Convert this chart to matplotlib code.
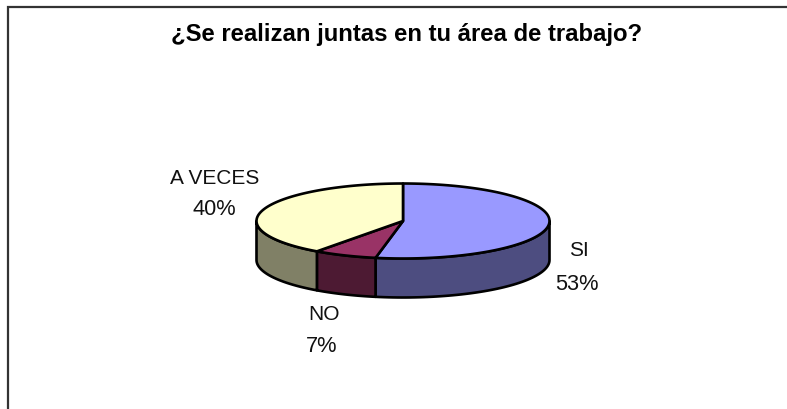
import numpy as np
import matplotlib
matplotlib.use("Agg")
import matplotlib.pyplot as plt

labels = ["SI", "NO", "A VECES"]
values = [53, 7, 40]
top_colors = ["#9999FF", "#993366", "#FFFFCC"]
side_colors = ["#4D4D80", "#4D1A33", "#808066"]

title = "¿Se realizan juntas en tu área de trabajo?"

plt.rcParams['font.family'] = ['Liberation Sans', 'DejaVu Sans']

fig = plt.figure(figsize=(7.87, 4.10), dpi=100)
ax = fig.add_axes([0, 0, 1, 1])
ax.set_xlim(0, 787)
ax.set_ylim(410, 0)
ax.axis('off')

# squashed ellipse of the pie, angles run clockwise from the top
cx, cy = 403, 222
rx, ry = 146.5, 37.5
depth = 39


def rim(a):
    a = np.radians(a)
    return cx + rx * np.sin(a), cy - ry * np.cos(a)


edges = np.concatenate([[0], np.cumsum(values)]) * 360 / sum(values)

# side walls, only the front half of the rim shows
for i in range(len(values)):
    a0 = max(edges[i], 90)
    a1 = min(edges[i + 1], 270)
    if a0 >= a1:
        continue
    a = np.linspace(a0, a1, 60)
    x, y = rim(a)
    ax.fill(np.r_[x, x[::-1]], np.r_[y, y[::-1] + depth],
            facecolor=side_colors[i], edgecolor='black', lw=1.9, joinstyle='round')

# top face
for i in range(len(values)):
    a = np.linspace(edges[i], edges[i + 1], 120)
    x, y = rim(a)
    ax.fill(np.r_[cx, x], np.r_[cy, y],
            facecolor=top_colors[i], edgecolor='black', lw=1.9, joinstyle='round')

# frame, only top and left are in the picture
ax.plot([7.5, 7.5, 787], [410, 7.5, 7.5], color='#333333', lw=1.6, solid_joinstyle='miter')

ax.text(406.5, 35, title, ha='center', va='center', fontsize=17.2, fontweight='bold', color='black')

label_pos = [(578.5, 251, 577, 285), (324.5, 315, 322, 347), (214.5, 178.5, 214.5, 210)]
for lab, val, pos in zip(labels, values, label_pos):
    ax.text(pos[0], pos[1], lab, ha='center', va='center', fontsize=15, color='#111111')
    ax.text(pos[2], pos[3], f"{val}%", ha='center', va='center', fontsize=15.7, color='#111111')

fig.savefig("out.png", dpi=100)
